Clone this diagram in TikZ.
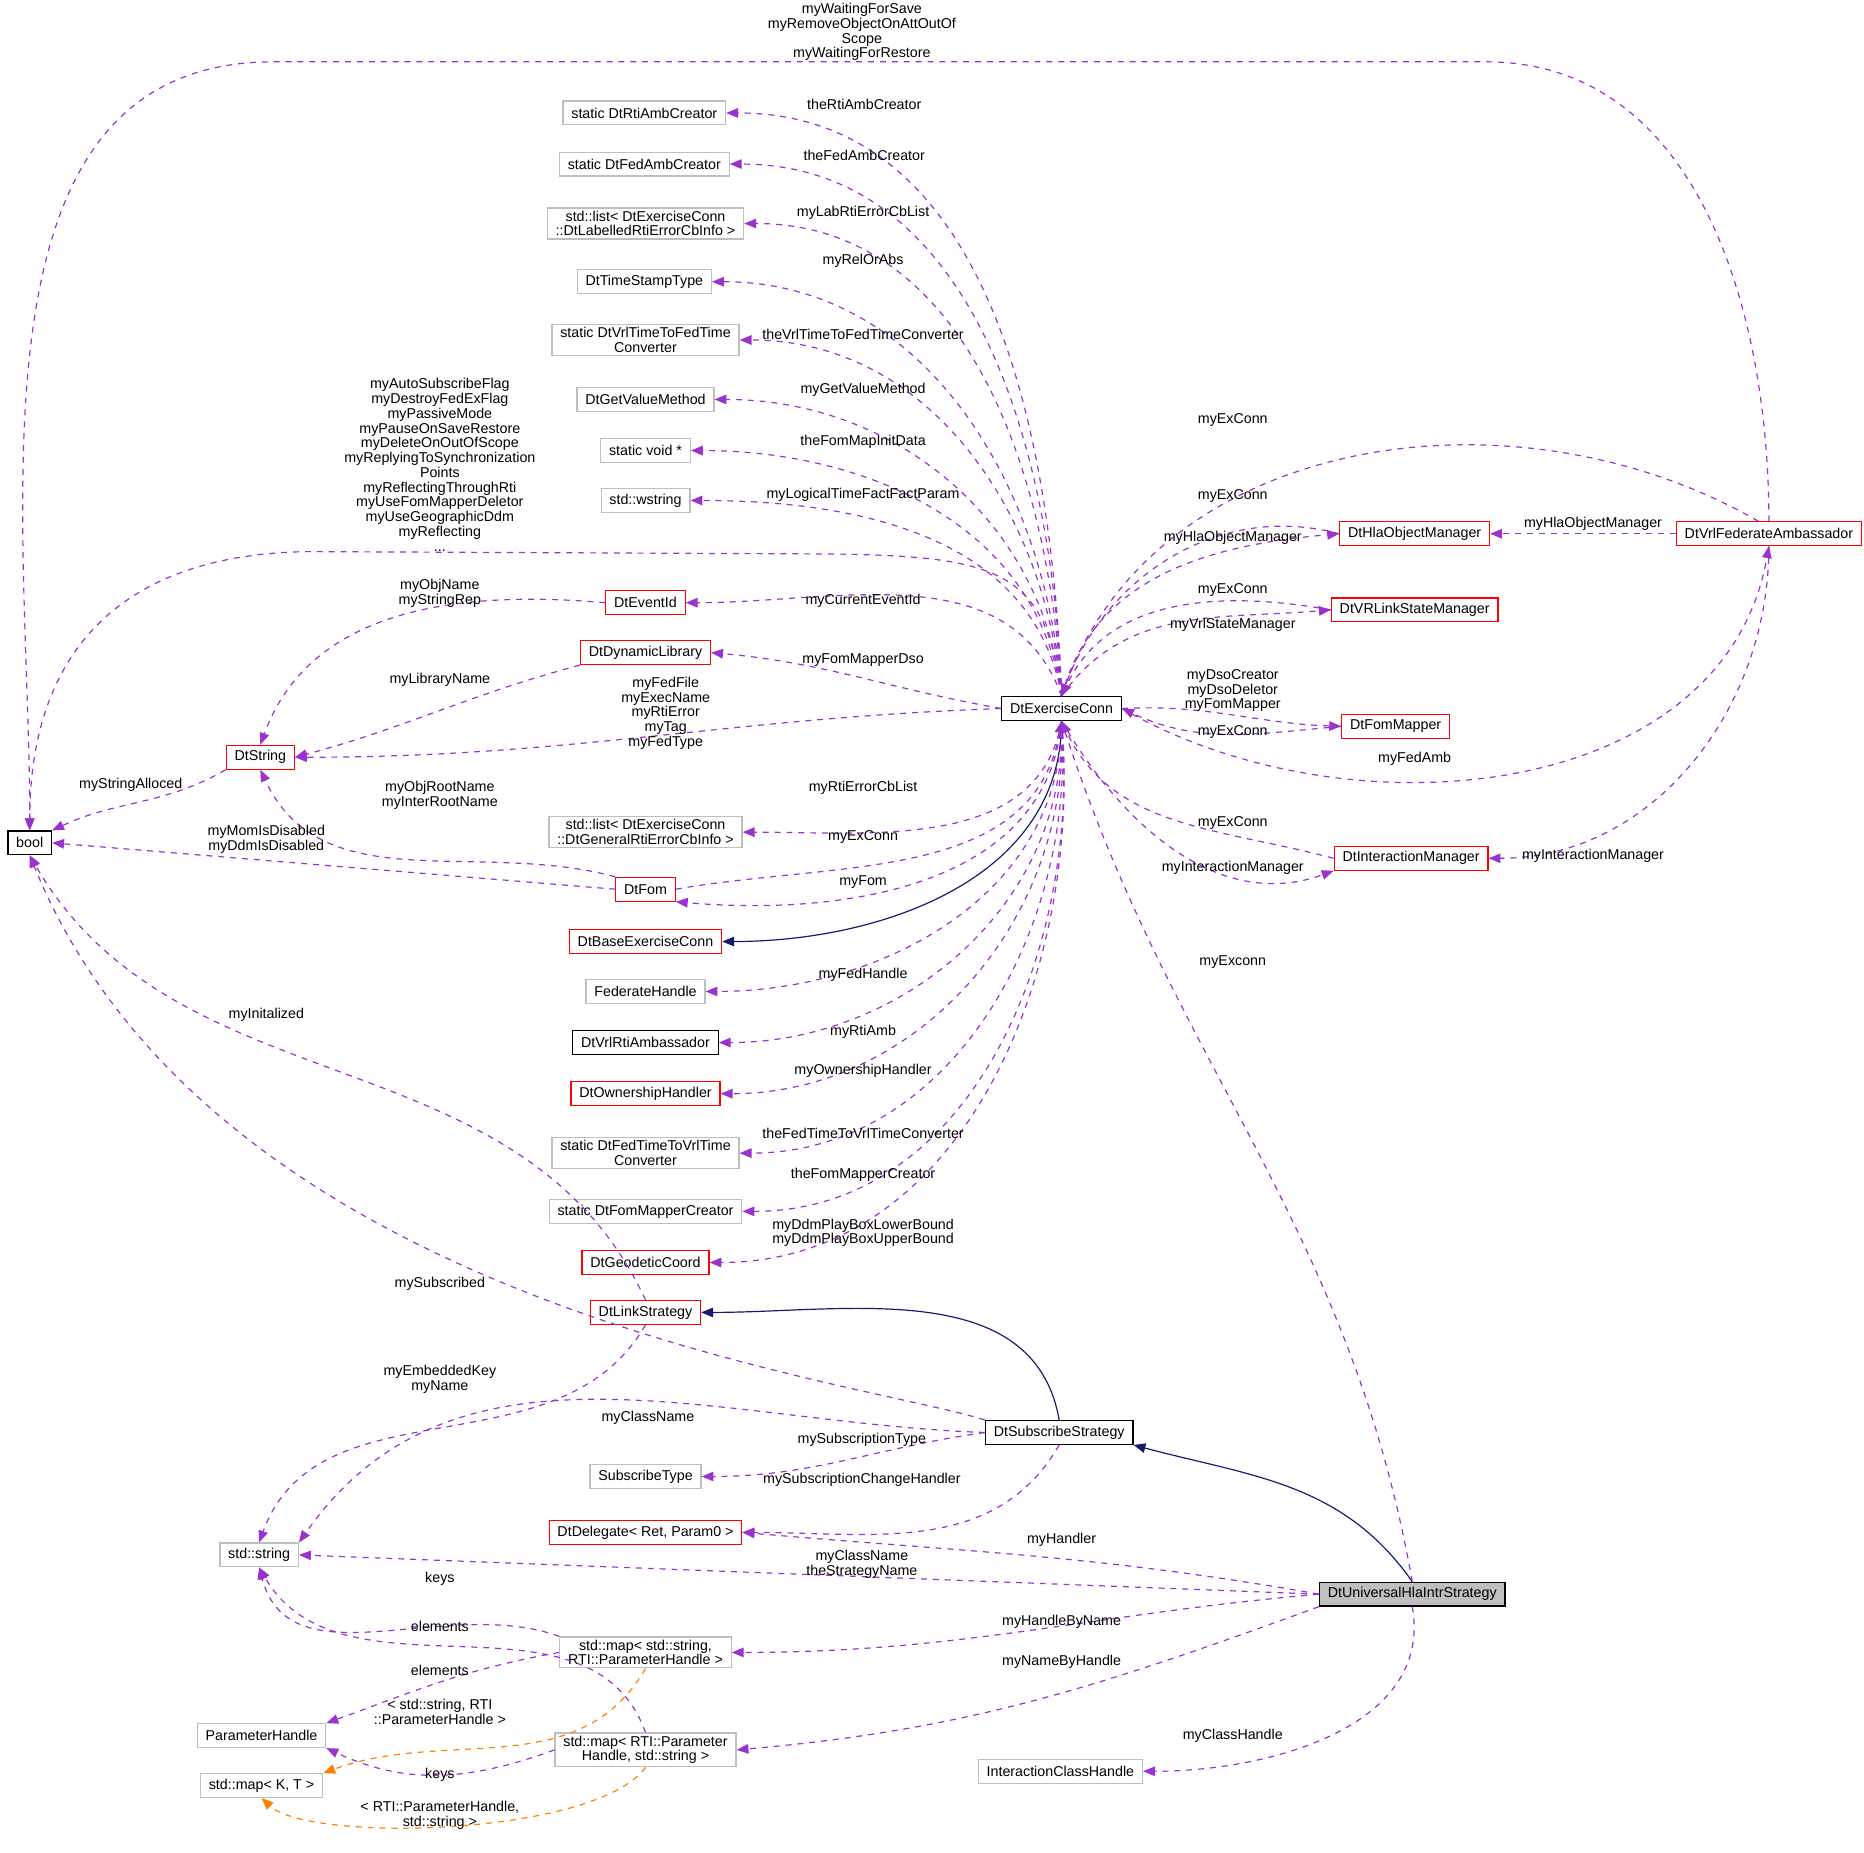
\documentclass[tikz,border=0pt]{standalone}
\usepackage{fontspec}
\setmainfont{Liberation Sans}
\usetikzlibrary{arrows.meta,positioning,calc}
\definecolor{depcol}{HTML}{9A32CD}
\definecolor{inhcol}{HTML}{191970}
\definecolor{gcol}{HTML}{BFBFBF}
\tikzset{
    box/.style={draw=black, rectangle, inner xsep=3.5pt, inner ysep=1.2pt, minimum height=10pt, align=center, font=\fontsize{6}{6.2}\selectfont, line width=0.5pt},
    gbox/.style={box, draw=gcol},
    rbox/.style={box, draw=red},
    dep/.style={depcol, dash pattern=on 2.5pt off 2.5pt, line width=0.5pt, -{Triangle[length=5pt,width=4pt]}},
    inh/.style={inhcol, line width=0.5pt, -{Triangle[length=5pt,width=4pt]}},
    tmpl/.style={orange, dash pattern=on 2.5pt off 2.5pt, line width=0.5pt, -{Triangle[length=5pt,width=4pt]}},
    lbl/.style={inner sep=0pt, align=center, font=\fontsize{6}{6.2}\selectfont}
}
\begin{document}
\begin{tikzpicture}[x=0.5pt, y=-0.5pt]
    \useasboundingbox (0,0) rectangle (1568,1558);
    % central class and its neighbours
    \node[box] (ex) at (893,596) {DtExerciseConn};
    \node[box] (bool) at (25,709) {bool};
    \node[rbox] (ds) at (219,637) {DtString};
    \node[gbox] (rac) at (542,95) {static DtRtiAmbCreator};
    \node[gbox] (fac) at (542,138) {static DtFedAmbCreator};
    \node[gbox] (ll) at (543,188) {std::list< DtExerciseConn\\::DtLabelledRtiErrorCbInfo >};
    \node[gbox] (tst) at (542,237) {DtTimeStampType};
    \node[gbox] (vtf) at (543,286) {static DtVrlTimeToFedTime\\Converter};
    \node[gbox] (gvm) at (543,336) {DtGetValueMethod};
    \node[gbox] (sv) at (543,379) {static void *};
    \node[gbox] (ws) at (543,421) {std::wstring};
    \node[rbox] (ev) at (543,507) {DtEventId};
    \node[rbox] (dl) at (543,549) {DtDynamicLibrary};
    \node[gbox] (lg) at (543,700) {std::list< DtExerciseConn\\::DtGeneralRtiErrorCbInfo >};
    \node[rbox] (fo) at (543,748) {DtFom};
    \node[rbox] (be) at (543,792) {DtBaseExerciseConn};
    \node[gbox] (fh) at (543,834) {FederateHandle};
    \node[box] (vr) at (543,877) {DtVrlRtiAmbassador};
    \node[rbox] (oh) at (543,920) {DtOwnershipHandler};
    \node[gbox] (ftv) at (543,970) {static DtFedTimeToVrlTime\\Converter};
    \node[gbox] (fmc) at (543,1019) {static DtFomMapperCreator};
    \node[rbox] (gc) at (543,1062) {DtGeodeticCoord};
    \node[rbox] (ls) at (543,1104) {DtLinkStrategy};
    \node[rbox] (ho) at (1190,449) {DtHlaObjectManager};
    \node[rbox] (vs) at (1190,513) {DtVRLinkStateManager};
    \node[rbox] (fm) at (1174,611) {DtFomMapper};
    \node[rbox] (im) at (1187,722) {DtInteractionManager};
    \node[rbox] (va) at (1488,449) {DtVrlFederateAmbassador};
    \node[box] (ss) at (891,1205) {DtSubscribeStrategy};
    \node[gbox] (sty) at (543,1242) {SubscribeType};
    \node[rbox] (dd) at (543,1289) {DtDelegate< Ret, Param0 >};
    \node[gbox] (st) at (218,1308) {std::string};
    \node[box, fill=gcol] (du) at (1188,1341) {DtUniversalHlaIntrStrategy};
    \node[gbox] (m1) at (543,1390) {std::map< std::string,\\RTI::ParameterHandle >};
    \node[gbox] (ph) at (220,1460) {ParameterHandle};
    \node[gbox] (m2) at (543,1472) {std::map< RTI::Parameter\\Handle, std::string >};
    \node[gbox] (mk) at (220,1502) {std::map< K, T >};
    \node[gbox] (ih) at (892,1490) {InteractionClassHandle};

    % members of DtExerciseConn, upper row
    \draw[dep] (ex.north) to[out=92,in=0] (rac.east);
    \draw[dep] (ex.north) to[out=92,in=0] (fac.east);
    \draw[dep] (ex.north) to[out=93,in=0] (ll.east);
    \draw[dep] (ex.north) to[out=94,in=0] (tst.east);
    \draw[dep] (ex.north) to[out=95,in=0] (vtf.east);
    \draw[dep] (ex.north) to[out=96,in=0] (gvm.east);
    \draw[dep] (ex.north) to[out=98,in=0] (sv.east);
    \draw[dep] (ex.north) to[out=100,in=0] (ws.east);
    \draw[dep] (ex.north) .. controls (880,480) and (840,468) .. (700,466) -- (260,464) .. controls (90,466) and (25,560) .. (bool.north);
    \draw[dep] (ex.north) to[out=110,in=0] (ev.east);
    \draw[dep] (ex.west) to[out=170,in=-5] (dl.east);
    \draw[dep] (ex.west) to[out=-178,in=0] (ds.east);
    \node[lbl] (l1) at (727,88) {theRtiAmbCreator};
    \node[lbl] (l2) at (727,131) {theFedAmbCreator};
    \node[lbl] (l3) at (726,179) {myLabRtiErrorCbList};
    \node[lbl] (l4) at (726,219) {myRelOrAbs};
    \node[lbl] (l5) at (726,281) {theVrlTimeToFedTimeConverter};
    \node[lbl] (l6) at (726,328) {myGetValueMethod};
    \node[lbl] (l7) at (726,372) {theFomMapInitData};
    \node[lbl] (l8) at (726,416) {myLogicalTimeFactFactParam};
    \node[lbl] (l9) at (370,391) {myAutoSubscribeFlag\\myDestroyFedExFlag\\myPassiveMode\\myPauseOnSaveRestore\\myDeleteOnOutOfScope\\myReplyingToSynchronization\\Points\\myReflectingThroughRti\\myUseFomMapperDeletor\\myUseGeographicDdm\\myReflecting\\...};
    \node[lbl] (l10) at (726,505) {myCurrentEventId};
    \node[lbl] (l11) at (726,555) {myFomMapperDso};
    \node[lbl] (l12) at (560,600) {myFedFile\\myExecName\\myRtiError\\myTag\\myFedType};

    % members of DtExerciseConn, lower row
    \draw[dep] (ex.south) to[out=-100,in=0] (lg.east);
    \draw[dep] (fo.east) to[out=10,in=-100] (ex.south);
    \draw[dep] (ex.south) to[out=-95,in=-5] (fo.south east);
    \draw[inh] (ex.south) to[out=-90,in=0] (be.east);
    \draw[dep] (ex.south) to[out=-90,in=0] (fh.east);
    \draw[dep] (ex.south) to[out=-88,in=0] (vr.east);
    \draw[dep] (ex.south) to[out=-87,in=0] (oh.east);
    \draw[dep] (ex.south) to[out=-86,in=0] (ftv.east);
    \draw[dep] (ex.south) to[out=-85,in=0] (fmc.east);
    \draw[dep] (ex.south) to[out=-85,in=0] (gc.east);
    \node[lbl] (l13) at (726,663) {myRtiErrorCbList};
    \node[lbl] (l14) at (726,704) {myExConn};
    \node[lbl] (l15) at (726,742) {myFom};
    \node[lbl] (l16) at (726,820) {myFedHandle};
    \node[lbl] (l17) at (726,868) {myRtiAmb};
    \node[lbl] (l18) at (726,901) {myOwnershipHandler};
    \node[lbl] (l19) at (726,953) {theFedTimeToVrlTimeConverter};
    \node[lbl] (l20) at (726,988) {theFomMapperCreator};
    \node[lbl] (l21) at (726,1037) {myDdmPlayBoxLowerBound\\myDdmPlayBoxUpperBound};

    % DtString and bool users
    \draw[dep] (ev.west) to[out=175,in=70] (ds.north);
    \draw[dep] (dl.south west) to[out=-165,in=15] (ds.east);
    \draw[dep] (ds.south west) to[out=-150,in=25] (bool.north east);
    \draw[dep] (fo.north west) to[out=165,in=-65] (ds.south);
    \draw[dep] (fo.west) -- (bool.east);
    \draw[dep] (ls.north) to[out=115,in=-60] (bool.south);
    \draw[dep] (ss.north west) .. controls (720,1160) and (180,1100) .. (bool.south);
    \node[lbl] (l22) at (370,499) {myObjName\\myStringRep};
    \node[lbl] (l23) at (370,572) {myLibraryName};
    \node[lbl] (l24) at (110,660) {myStringAlloced};
    \node[lbl] (l25) at (370,669) {myObjRootName\\myInterRootName};
    \node[lbl] (l26) at (224,706) {myMomIsDisabled\\myDdmIsDisabled};
    \node[lbl] (l27) at (224,854) {myInitalized};
    \node[lbl] (l28) at (370,1080) {mySubscribed};

    % managers around DtExerciseConn
    \draw[dep] (ho.west) to[out=165,in=70] (ex.north);
    \draw[dep] (ex.north) to[out=75,in=185] (ho.west);
    \draw[dep] (vs.west) to[out=170,in=65] (ex.north);
    \draw[dep] (ex.north) to[out=55,in=185] (vs.west);
    \draw[dep] (ex.east) to[out=3,in=178] (fm.west);
    \draw[dep] (fm.west) to[out=185,in=-25] (ex.east);
    \draw[dep] (im.west) to[out=165,in=-65] (ex.south);
    \draw[dep] (ex.south) to[out=-60,in=200] (im.south west);
    \draw[dep] (va.130) to[out=150,in=70] (ex.north);
    \draw[dep] (ex.east) to[out=-30,in=-100] (va.south);
    \draw[dep] (va.west) -- (ho.east);
    \draw[dep] (va.south) to[out=-90,in=0] (im.east);
    \draw[dep] (va.north) to[out=90,in=0] (1250,52) -- (230,52) to[out=180,in=90] (bool.north);
    \node[lbl] (l29) at (1037,417) {myExConn};
    \node[lbl] (l30) at (1037,452) {myHlaObjectManager};
    \node[lbl] (l31) at (1037,496) {myExConn};
    \node[lbl] (l32) at (1037,526) {myVrlStateManager};
    \node[lbl] (l33) at (1037,581) {myDsoCreator\\myDsoDeletor\\myFomMapper};
    \node[lbl] (l34) at (1037,616) {myExConn};
    \node[lbl] (l35) at (1190,638) {myFedAmb};
    \node[lbl] (l36) at (1037,353) {myExConn};
    \node[lbl] (l37) at (1340,441) {myHlaObjectManager};
    \node[lbl] (l38) at (1340,720) {myInteractionManager};
    \node[lbl] (l39) at (1037,692) {myExConn};
    \node[lbl] (l40) at (1037,730) {myInteractionManager};
    \node[lbl] (l41) at (725,27) {myWaitingForSave\\myRemoveObjectOnAttOutOf\\Scope\\myWaitingForRestore};

    % strategies
    \draw[inh] (ss.north) to[out=100,in=0] (ls.east);
    \draw[inh] (du.north) to[out=125,in=-15] (ss.south east);
    \draw[dep] (du.north) to[out=100,in=-72] (ex.south);
    \draw[dep] (ls.south) to[out=-120,in=70] (st.north);
    \draw[dep] (ss.west) to[out=178,in=55] (st.north east);
    \draw[dep] (ss.west) to[out=-172,in=0] (sty.east);
    \draw[dep] (ss.south) to[out=-120,in=0] (dd.east);
    \draw[dep] (du.west) to[out=170,in=-5] (dd.east);
    \draw[dep] (du.west) -- (st.east);
    \draw[dep] (du.west) to[out=-175,in=0] (m1.east);
    \draw[dep] (du.south west) to[out=-160,in=5] (m2.east);
    \draw[dep] (du.south) to[out=-80,in=0] (ih.east);
    \node[lbl] (l42) at (370,1160) {myEmbeddedKey\\myName};
    \node[lbl] (l43) at (545,1193) {myClassName};
    \node[lbl] (l44) at (725,1211) {mySubscriptionType};
    \node[lbl] (l45) at (725,1245) {mySubscriptionChangeHandler};
    \node[lbl] (l46) at (893,1295) {myHandler};
    \node[lbl] (l47) at (725,1316) {myClassName\\theStrategyName};
    \node[lbl] (l48) at (893,1364) {myHandleByName};
    \node[lbl] (l49) at (893,1398) {myNameByHandle};
    \node[lbl] (l50) at (1037,1460) {myClassHandle};
    \node[lbl] (l51) at (1037,809) {myExconn};

    % maps
    \draw[dep] (m1.north west) to[out=160,in=-75] (st.south);
    \draw[dep] (m1.west) to[out=-170,in=20] (ph.north east);
    \draw[dep] (m2.north) to[out=110,in=-60] (st.south);
    \draw[dep] (m2.west) to[out=-160,in=-25] (ph.south east);
    \draw[tmpl] (m1.south) to[out=-120,in=20] (mk.north east);
    \draw[tmpl] (m2.south) .. controls (500,1545) and (260,1550) .. (mk.south);
    \node[lbl] (l52) at (370,1328) {keys};
    \node[lbl] (l53) at (370,1405) {elements};
    \node[lbl] (l54) at (370,1368) {elements};
    \node[lbl] (l55) at (370,1493) {keys};
    \node[lbl] (l56) at (370,1440) {< std::string, RTI\\::ParameterHandle >};
    \node[lbl] (l57) at (370,1527) {< RTI::ParameterHandle,\\std::string >};
\end{tikzpicture}
\end{document}
